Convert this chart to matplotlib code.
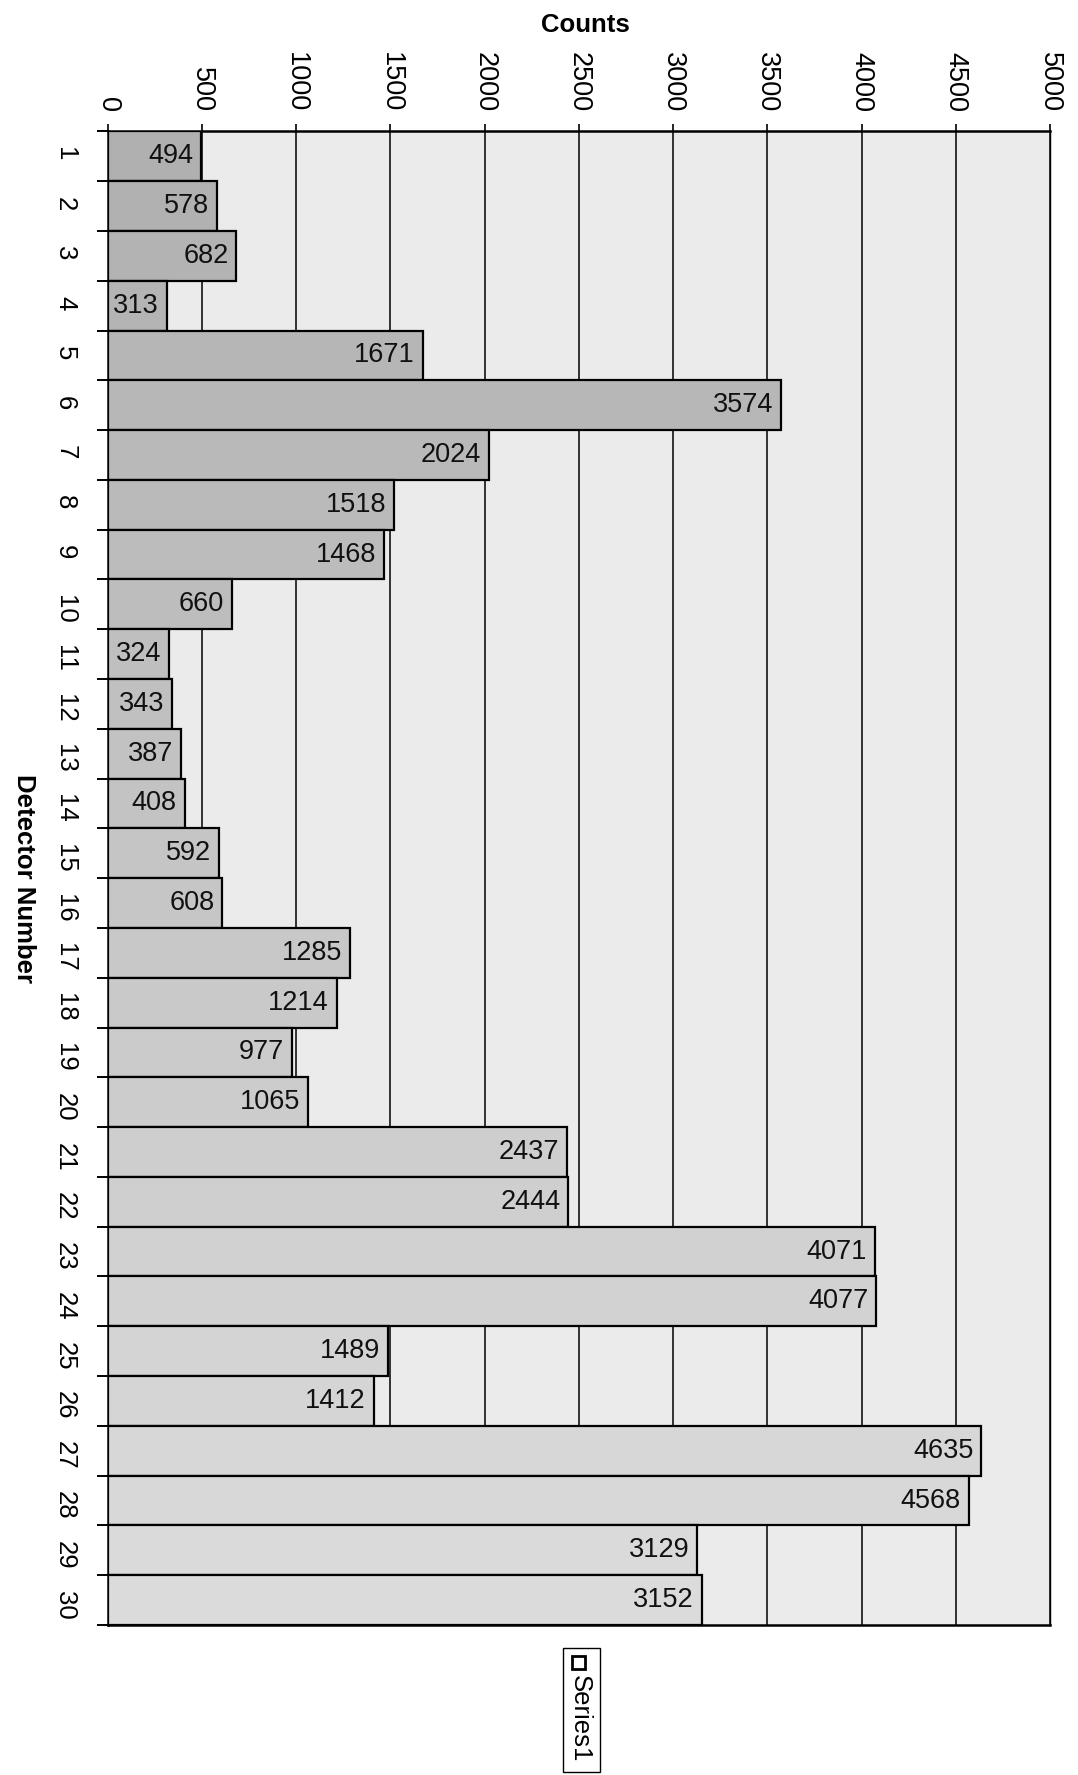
import numpy as np
import matplotlib
matplotlib.use("Agg")
import matplotlib.pyplot as plt
from matplotlib.patches import Rectangle

plt.rcParams['font.family'] = ['Liberation Sans', 'DejaVu Sans']

detectors = list(range(1, 31))
counts = [494, 578, 682, 313, 1671, 3574, 2024, 1518, 1468, 660,
          324, 343, 387, 408, 592, 608, 1285, 1214, 977, 1065,
          2437, 2444, 4071, 4077, 1489, 1412, 4635, 4568, 3129, 3152]
xticks = np.arange(0, 5001, 500)

fig = plt.figure(figsize=(10.78, 17.75), dpi=100)
ax = fig.add_axes([0.100, 0.0845, 0.874, 0.8415])
ax.set_facecolor('#ebebeb')

# bar shade gets lighter down the list, like the printed fill
shades = [str(s) for s in np.linspace(0.69, 0.86, len(counts))]
ax.barh(detectors, counts, height=1.0, color=shades, edgecolor='black',
        linewidth=1.6, zorder=3)

for d, c in zip(detectors, counts):
    ax.text(c - 42, d, str(c), ha='right', va='center', fontsize=19.5,
            color='#111111', zorder=4)

ax.set_xlim(0, 5000)
ax.set_ylim(30.5, 0.5)
ax.xaxis.tick_top()
ax.xaxis.set_label_position('top')
ax.set_xticks(xticks)
ax.set_xticklabels([str(v) for v in xticks], rotation=270, fontsize=19.5)
ax.tick_params(axis='x', length=5, width=1.2, pad=9)
for v in xticks:
    ax.axvline(v, color='black', lw=1.1, zorder=1)

# tick marks sit between bars, labels at the bar centres
ax.set_yticks(np.arange(0.5, 31, 1.0))
ax.set_yticklabels([])
ax.tick_params(axis='y', which='major', length=8, width=1.4)
ax.set_yticks(detectors, minor=True)
ax.set_yticklabels([str(d) for d in detectors], minor=True, rotation=270,
                   fontsize=18.5)
ax.tick_params(axis='y', which='minor', length=0, pad=22)

for s in ['top', 'left', 'bottom']:
    ax.spines[s].set_linewidth(1.8)
ax.spines['right'].set_linewidth(1.0)

fig.text(0.543, 0.986, 'Counts', ha='center', va='center', fontsize=18.5,
         fontweight='bold')
fig.text(0.022, 0.505, 'Detector Number', ha='center', va='center',
         fontsize=18.5, fontweight='bold', rotation=270)

# legend box below the plot
fig.patches.append(Rectangle((0.522, 0.0017), 0.035, 0.0698,
                             transform=fig.transFigure, facecolor='white',
                             edgecolor='black', lw=1.0))
fig.patches.append(Rectangle((0.531, 0.0597), 0.012, 0.0075,
                             transform=fig.transFigure, facecolor='white',
                             edgecolor='black', lw=2.0))
fig.text(0.538, 0.0315, 'Series1', ha='center', va='center', fontsize=18.5,
         rotation=270)

fig.savefig('out.png', dpi=100)
